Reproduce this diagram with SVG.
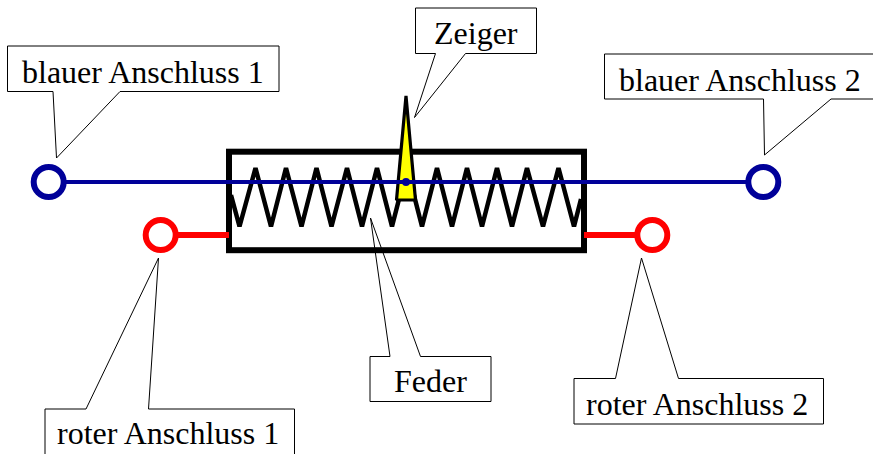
<svg xmlns="http://www.w3.org/2000/svg" width="873" height="454" viewBox="0 0 873 454">
<style>
.callout{fill:#fff;stroke:#000;stroke-width:1;stroke-linejoin:miter}
.label{font-family:"Liberation Serif","Times New Roman",serif;font-size:32px;fill:#000}
.blue{fill:#fff;stroke:#000099;stroke-width:6}
.red{fill:#fff;stroke:#ff0000;stroke-width:6}
</style>
<rect width="873" height="454" fill="#fff"/>
<g id="callout-blauer-1">
<path class="callout" d="M7.500 46H279V91.500H120L56.500 158L53 91.500H7.500Z"/>
<text class="label" x="22" y="82.500">blauer Anschluss 1</text>
</g>
<g id="callout-blauer-2">
<path class="callout" d="M604.500 54H880V99H831L764.500 155L763.500 99H604.500Z"/>
<text class="label" x="619" y="90.500">blauer Anschluss 2</text>
</g>
<g id="callout-zeiger">
<path class="callout" d="M415.500 8H536.500V53.500H465.500L414.500 117.500L435.500 53.500H415.500Z"/>
<text class="label" x="434" y="44">Zeiger</text>
</g>
<g id="callout-feder">
<path class="callout" d="M370 356.500H390L370.500 218L420.500 356.500H491V401.500H370Z"/>
<text class="label" x="394" y="392">Feder</text>
</g>
<g id="callout-roter-1">
<path class="callout" d="M45 409H86L158.500 258L148.500 409H294.500V460H45Z"/>
<text class="label" x="57" y="444">roter Anschluss 1</text>
</g>
<g id="callout-roter-2">
<path class="callout" d="M574 378.500H615.500L641.500 258L678.500 378.500H823.500V424H574Z"/>
<text class="label" x="586" y="414.500">roter Anschluss 2</text>
</g>
<g id="gehaeuse">
<rect x="229" y="151.700" width="355" height="98.500" fill="none" stroke="#000" stroke-width="6"/>
</g>
<g id="feder">
<polyline fill="none" stroke="#000" stroke-width="4.500" stroke-linejoin="bevel" points="231,195 239.500,226.500 255.500,168 271,226.500 286,168 301.500,226.500 316.500,168 331.500,226.500 347,168 362,226.500 377,168 392,226.500 407,168 422,226.500 437,168 452,226.500 467,168 482,226.500 497,168 512,226.500 527,168 543,226.500 558.500,168 574,226.500 581,199"/>
</g>
<g id="zeiger">
<polygon points="406,96 415.500,200 396.500,200" fill="#ffff00" stroke="#000" stroke-width="3.200" stroke-linejoin="bevel"/>
</g>
<g id="connectors">
<line x1="48" y1="182" x2="763" y2="182" stroke="#000099" stroke-width="4"/>
<line x1="161" y1="235" x2="229" y2="235" stroke="#ff0000" stroke-width="6"/>
<line x1="584" y1="235" x2="652" y2="235" stroke="#ff0000" stroke-width="6"/>
</g>
<g id="zeiger-achse"><circle cx="406" cy="182" r="4" fill="#000099"/></g>
<g id="blauer-anschluss-1"><circle class="blue" cx="48.700" cy="182" r="15"/></g>
<g id="blauer-anschluss-2"><circle class="blue" cx="763.300" cy="182" r="15"/></g>
<g id="roter-anschluss-1"><circle class="red" cx="160.700" cy="235" r="15"/></g>
<g id="roter-anschluss-2"><circle class="red" cx="652.300" cy="235" r="15"/></g>
</svg>
